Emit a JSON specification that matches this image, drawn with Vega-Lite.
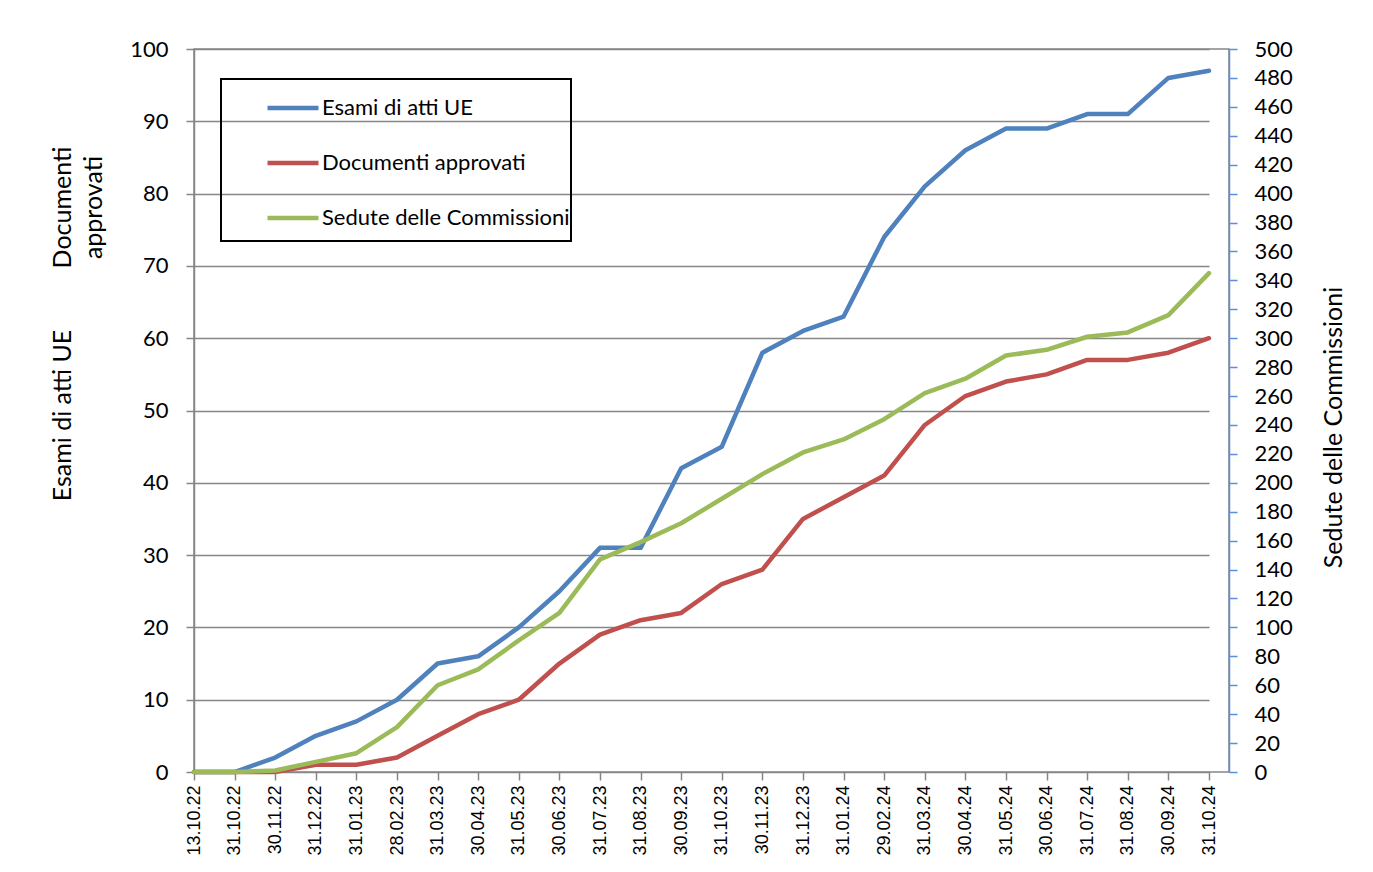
{
  "$schema": "https://vega.github.io/schema/vega-lite/v6.json",
  "width": 1035,
  "height": 723,
  "autosize": "none",
  "padding": {"left": 194, "top": 49, "right": 144, "bottom": 100},
  "background": "white",
  "config": {
    "view": {"stroke": "#868686", "strokeWidth": 1.5},
    "font": "Lato",
    "legend": {"strokeWidth": 2}
  },
  "data": {
    "values": [
      {"d": "13.10.22", "esami": 0, "documenti": 0, "sedute": 0},
      {"d": "31.10.22", "esami": 0, "documenti": 0, "sedute": 0},
      {"d": "30.11.22", "esami": 2, "documenti": 0, "sedute": 1},
      {"d": "31.12.22", "esami": 5, "documenti": 1, "sedute": 7},
      {"d": "31.01.23", "esami": 7, "documenti": 1, "sedute": 13},
      {"d": "28.02.23", "esami": 10, "documenti": 2, "sedute": 31},
      {"d": "31.03.23", "esami": 15, "documenti": 5, "sedute": 60},
      {"d": "30.04.23", "esami": 16, "documenti": 8, "sedute": 71},
      {"d": "31.05.23", "esami": 20, "documenti": 10, "sedute": 91},
      {"d": "30.06.23", "esami": 25, "documenti": 15, "sedute": 110},
      {"d": "31.07.23", "esami": 31, "documenti": 19, "sedute": 147},
      {"d": "31.08.23", "esami": 31, "documenti": 21, "sedute": 159},
      {"d": "30.09.23", "esami": 42, "documenti": 22, "sedute": 172},
      {"d": "31.10.23", "esami": 45, "documenti": 26, "sedute": 189},
      {"d": "30.11.23", "esami": 58, "documenti": 28, "sedute": 206},
      {"d": "31.12.23", "esami": 61, "documenti": 35, "sedute": 221},
      {"d": "31.01.24", "esami": 63, "documenti": 38, "sedute": 230},
      {"d": "29.02.24", "esami": 74, "documenti": 41, "sedute": 244},
      {"d": "31.03.24", "esami": 81, "documenti": 48, "sedute": 262},
      {"d": "30.04.24", "esami": 86, "documenti": 52, "sedute": 272},
      {"d": "31.05.24", "esami": 89, "documenti": 54, "sedute": 288},
      {"d": "30.06.24", "esami": 89, "documenti": 55, "sedute": 292},
      {"d": "31.07.24", "esami": 91, "documenti": 57, "sedute": 301},
      {"d": "31.08.24", "esami": 91, "documenti": 57, "sedute": 304},
      {"d": "30.09.24", "esami": 96, "documenti": 58, "sedute": 316},
      {"d": "31.10.24", "esami": 97, "documenti": 60, "sedute": 345}
    ]
  },
  "encoding": {
    "x": {
      "field": "d",
      "type": "ordinal",
      "sort": null,
      "scale": {"type": "point", "padding": 0, "rangeMax": 1015},
      "axis": {
        "title": null,
        "labelAngle": 270,
        "labelFont": "Liberation Sans",
        "labelFontSize": 18,
        "labelColor": "black",
        "labelPadding": 5,
        "tickColor": "#868686",
        "tickSize": 8,
        "tickWidth": 1.5,
        "domain": false,
        "grid": false
      }
    }
  },
  "layer": [
    {
      "mark": {"type": "line", "strokeWidth": 4.5, "strokeCap": "round", "strokeJoin": "round"},
      "encoding": {
        "y": {
          "field": "esami",
          "type": "quantitative",
          "scale": {"domain": [0, 100], "nice": false},
          "axis": {
            "orient": "left",
            "values": [0, 10, 20, 30, 40, 50, 60, 70, 80, 90, 100],
            "grid": true,
            "gridColor": "#868686",
            "gridWidth": 1.5,
            "domainColor": "#868686",
            "domainWidth": 1.5,
            "tickColor": "#868686",
            "tickSize": 8,
            "tickWidth": 1.5,
            "labelFont": "Lato",
            "labelFontSize": 22,
            "labelColor": "black",
            "labelPadding": 18,
            "title": "Esami di atti UE",
            "titleFont": "Lato",
            "titleFontSize": 25,
            "titleFontWeight": "normal",
            "titleColor": "black",
            "titleAngle": 270,
            "titleAlign": "center",
            "titleBaseline": "middle",
            "titleX": -132,
            "titleY": 366
          }
        },
        "color": {
          "datum": "Esami di atti UE",
          "type": "nominal",
          "scale": {
            "domain": ["Esami di atti UE", "Documenti approvati", "Sedute delle Commissioni"],
            "range": ["#4f81bd", "#c0504d", "#9bbb59"]
          },
          "legend": {
            "orient": "none",
            "legendX": 27,
            "legendY": 30,
            "title": "\u00a0",
            "titleOrient": "bottom",
            "titleFontSize": 8,
            "titlePadding": 3,
            "direction": "vertical",
            "symbolType": "stroke",
            "symbolSize": 2601,
            "symbolStrokeWidth": 4.5,
            "symbolOffset": 43,
            "labelFont": "Lato",
            "labelFontSize": 22,
            "labelColor": "black",
            "labelOffset": 1,
            "labelLimit": 600,
            "rowPadding": 16,
            "padding": 1,
            "strokeColor": "black",
            "fillColor": null
          }
        }
      }
    },
    {
      "mark": {"type": "line", "strokeWidth": 4.5, "strokeCap": "round", "strokeJoin": "round"},
      "encoding": {
        "y": {
          "field": "documenti",
          "type": "quantitative",
          "scale": {"domain": [0, 100], "nice": false},
          "axis": {
            "orient": "left",
            "labels": false,
            "ticks": false,
            "domain": false,
            "grid": false,
            "title": ["Documenti", "approvati"],
            "titleFont": "Lato",
            "titleFontSize": 25,
            "titleFontWeight": "normal",
            "titleColor": "black",
            "titleAngle": 270,
            "titleAlign": "center",
            "titleBaseline": "middle",
            "titleLineHeight": 31,
            "titleX": -132,
            "titleY": 158
          }
        },
        "color": {"datum": "Documenti approvati", "type": "nominal"}
      }
    },
    {
      "mark": {"type": "line", "strokeWidth": 4.5, "strokeCap": "round", "strokeJoin": "round"},
      "encoding": {
        "y": {
          "field": "sedute",
          "type": "quantitative",
          "scale": {"domain": [0, 500], "nice": false},
          "axis": {
            "orient": "right",
            "values": [0, 20, 40, 60, 80, 100, 120, 140, 160, 180, 200, 220, 240, 260, 280, 300, 320, 340, 360, 380, 400, 420, 440, 460, 480, 500],
            "grid": false,
            "domainColor": "#5b8fd9",
            "domainWidth": 1.5,
            "tickColor": "#5b8fd9",
            "tickSize": 8,
            "tickWidth": 1.5,
            "labelFont": "Lato",
            "labelFontSize": 22,
            "labelColor": "black",
            "labelPadding": 17,
            "title": "Sedute delle Commissioni",
            "titleFont": "Lato",
            "titleFontSize": 25,
            "titleFontWeight": "normal",
            "titleColor": "black",
            "titleAngle": 270,
            "titleAlign": "center",
            "titleBaseline": "middle",
            "titleX": 104,
            "titleY": 378
          }
        },
        "color": {"datum": "Sedute delle Commissioni", "type": "nominal"}
      }
    }
  ],
  "resolve": {"scale": {"y": "independent"}}
}
